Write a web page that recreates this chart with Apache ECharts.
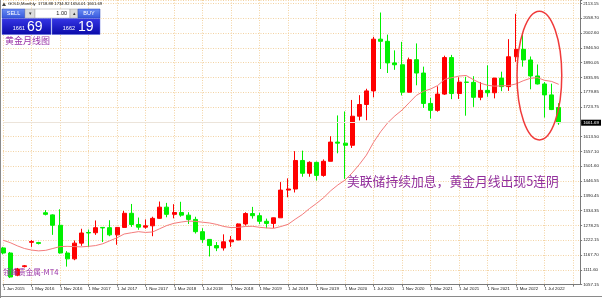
<!DOCTYPE html>
<html><head><meta charset="utf-8">
<script src="https://cdn.jsdelivr.net/npm/echarts@6/dist/echarts.min.js"></script>
<style>html,body{margin:0;padding:0;background:#fff;overflow:hidden}#c{width:602px;height:298px}</style>
</head><body><div id="c"></div>
<script>
// ---- data ----
const categories = ['1 Jan 2015','1 Nov 2015','1 Dec 2015','1 Jan 2016','1 May 2016','1 Aug 2016','1 Sep 2016','1 Oct 2016',
'1 Nov 2016','1 Dec 2016','1 Jan 2017','1 Feb 2017','1 Mar 2017','1 Apr 2017','1 May 2017','1 Jun 2017','1 Jul 2017','1 Aug 2017','1 Sep 2017','1 Oct 2017','1 Nov 2017','1 Dec 2017',
'1 Jan 2018','1 Feb 2018','1 Mar 2018','1 Apr 2018','1 May 2018','1 Jun 2018','1 Jul 2018','1 Aug 2018','1 Sep 2018','1 Oct 2018','1 Nov 2018','1 Dec 2018',
'1 Jan 2019','1 Feb 2019','1 Mar 2019','1 Apr 2019','1 May 2019','1 Jun 2019','1 Jul 2019','1 Aug 2019','1 Sep 2019','1 Oct 2019','1 Nov 2019','1 Dec 2019',
'1 Jan 2020','1 Feb 2020','1 Mar 2020','1 Apr 2020','1 May 2020','1 Jun 2020','1 Jul 2020','1 Aug 2020','1 Sep 2020','1 Oct 2020','1 Nov 2020','1 Dec 2020',
'1 Jan 2021','1 Feb 2021','1 Mar 2021','1 Apr 2021','1 May 2021','1 Jun 2021','1 Jul 2021','1 Aug 2021','1 Sep 2021','1 Oct 2021','1 Nov 2021','1 Dec 2021',
'1 Jan 2022','1 Feb 2022','1 Mar 2022','1 Apr 2022','1 May 2022','1 Jun 2022','1 Jul 2022','1 Aug 2022','1 Sep 2022',
'1 Oct 2022','1 Nov 2022','1 Dec 2022'];
const opens = [1192,1173,1090,1122,1213,1212,1324,1316,
1277,1173,1151,1210,1250,1249,1269,1268,1241,1269,1322,1280,1270,1275,
1303,1345,1318,1325,1315,1299,1253,1224,1201,1192,1215,1222,
1282,1321,1313,1292,1284,1305,1409,1413,1520,1472,1513,1464,
1517,1589,1585,1577,1686,1730,1781,1975,1967,1886,1879,1776,
1898,1848,1734,1708,1769,1906,1771,1814,1813,1757,1783,1774,
1829,1797,1909,1937,1897,1837,1807,1766,1718.88];
const closes = [1173,1083,1113,1125,1216,1209,1318,1277,
1173,1151,1210,1248,1248,1268,1267,1241,1269,1322,1280,1270,1275,1303,
1345,1318,1325,1315,1299,1253,1224,1201,1192,1215,1222,1282,
1321,1313,1292,1284,1305,1409,1413,1520,1472,1513,1464,1517,
1589,1585,1577,1686,1730,1781,1975,1967,1886,1879,1776,1898,
1848,1734,1708,1769,1906,1771,1814,1813,1757,1783,1774,1829,
1797,1909,1937,1897,1837,1807,1766,1711,1661.69];
const lows = [1168,1079,1086,1119,1196,1205,1314,1241,
1171,1122,1146,1200,1195,1241,1214,1236,1204,1267,1271,1260,1264,1236,
1302,1307,1303,1309,1282,1246,1211,1160,1180,1182,1196,1221,
1276,1302,1281,1266,1267,1305,1382,1400,1459,1459,1445,1459,
1517,1547,1451,1567,1670,1671,1757,1863,1848,1860,1764,1775,
1802,1717,1677,1703,1766,1750,1751,1688,1721,1746,1759,1753,
1780,1781,1890,1872,1787,1805,1681,1709,1654.01];
const highs = [1196,1177,1117,1128,1222,1215,1334,1318,
1337,1180,1220,1264,1261,1295,1270,1296,1270,1331,1357,1306,1299,1309,
1366,1361,1356,1365,1326,1309,1266,1225,1214,1243,1237,1284,
1326,1346,1324,1302,1306,1439,1453,1555,1557,1517,1516,1524,
1611,1689,1704,1747,1765,1789,1984,2075,1992,1933,1965,1906,
1959,1872,1755,1798,1913,1916,1832,1834,1836,1814,1877,1830,
1853,1975,2070,1998,1910,1880,1814,1808,1734.92];
const movingAverage = [1221,1212,1200,1190,1184,1181,1183,1190,1197,1198,1197,1196,1198,1200.9,
1207.7,1219.0,1230.1,1244.2,1248.8,1253.1,1250.1,1251.9,1264.2,1276.1,1284.4,1289.1,1292.7,1291.6,
1288.5,1285.6,1280.1,1272.5,1268.4,1269.2,1272.5,1273.2,1269.4,1267.0,1265.6,1272.3,1280.4,1299.5,
1317.2,1339.5,1358.9,1380.5,1406.7,1428.4,1446.6,1473.3,1504.6,1540.1,1587.9,1627.8,1661.6,1687.2,
1708.9,1736.4,1763.9,1779.4,1787.9,1801.0,1824.5,1830.6,1836.6,1838.9,1823.3,1810.1,1802.1,1798.6,
1800.1,1800.9,1807.2,1818.9,1828.1,1830.8,1820.8,1816.5,1805.6];
const yTickLabels = ['1057.15','1111.60','1167.70','1222.15','1278.25','1334.35','1390.45','1446.55','1501.60','1557.10',
'1613.50','','1723.75','1779.85','1835.95','1890.05','1946.50','2002.60','2058.70','2113.15'];
const currentPrice = 1661.69;
const headerText = 'GOLD,Monthly  1718.88 1734.92 1654.01 1661.69';
const sellPrice = ['1661', '69'];
const buyPrice = ['1662', '19'];
const lotText = '1.00';
const titleText = '黄金月线图';
const noteText = '美联储持续加息，黄金月线出现5连阴';
const sourceText = '领峰贵金属-MT4';

// ---- chart ----
const Y_MIN = 1054.5, Y_MAX = 2121.9, Y_STEP = 55.5;
const gridColor = '#f3d3a3';
const candleData = opens.map((o, i) => [o, closes[i], lows[i], highs[i]]);
const chart = echarts.init(document.getElementById('c'), null, {renderer: 'canvas'});
const numFont = 'Liberation Sans';
chart.setOption({
  animation: false,
  backgroundColor: '#ffffff',
  grid: {left: 1, right: 20, top: 0, bottom: 13.4, containLabel: false},
  xAxis: {
    type: 'category', data: categories, boundaryGap: false,
    axisLine: {lineStyle: {color: '#7a7a7a', width: 1}},
    axisTick: {interval: 3, length: 2, lineStyle: {color: '#7a7a7a'}},
    axisLabel: {interval: 3, align: 'left', fontSize: 4.4, color: '#222', margin: 2.5, fontFamily: numFont,
      formatter: (v, i) => (i > 78 ? '' : v)},
    splitLine: {show: true, interval: 3, lineStyle: {color: gridColor, type: [1, 1.5], width: 1}}
  },
  yAxis: {
    type: 'value', position: 'right', min: Y_MIN, max: Y_MAX, interval: Y_STEP,
    axisLine: {show: true, lineStyle: {color: '#7a7a7a', width: 1}},
    axisTick: {show: true, length: 2, lineStyle: {color: '#7a7a7a'}},
    axisLabel: {fontSize: 4.4, color: '#222', margin: 3, fontFamily: numFont,
      formatter: v => {
        const k = Math.round(v / Y_STEP);
        if (Math.abs(v - k * Y_STEP) > 0.01) return '';
        return yTickLabels[k - 19] || '';
      }},
    splitLine: {show: true, lineStyle: {color: gridColor, type: [1, 1.5], width: 1}}
  },
  series: [
    {
      type: 'candlestick', data: candleData, barWidth: 4.5,
      itemStyle: {color: '#ff0000', borderColor: '#ff0000', color0: '#00f000', borderColor0: '#00f000', borderWidth: 1},
      markLine: {
        silent: true, symbol: ['none', 'none'],
        lineStyle: {color: '#ece4da', type: 'solid', width: 1},
        label: {show: true, position: 'end', distance: 1, formatter: () => currentPrice.toFixed(2),
          backgroundColor: '#000', color: '#fff', fontSize: 4.4, fontFamily: numFont, padding: [1, 2]},
        data: [{yAxis: currentPrice}]
      },
      z: 2
    },
    {
      type: 'line', data: movingAverage, showSymbol: false, smooth: false,
      lineStyle: {color: '#f47c7c', width: 1}, z: 3
    }
  ]
});

// ---- annotations ----
const pL = chart.convertToPixel({gridIndex: 0}, [72, 2080]);
const pR = chart.convertToPixel({gridIndex: 0}, [78, 1597]);
const ex1 = pL[0] + 1, ex2 = pR[0] + 3;
const ey1 = pL[1], ey2 = pR[1];

const blueBtn = new echarts.graphic.LinearGradient(0, 0, 0, 1, [{offset: 0, color: '#6a8cf4'}, {offset: 1, color: '#3657dc'}]);
const blueBox = new echarts.graphic.LinearGradient(0, 0, 0, 1, [{offset: 0, color: '#3636e6'}, {offset: 1, color: '#0a0aa8'}]);
const cjk = 'Noto Sans CJK SC';
chart.setOption({
  graphic: [
    {type: 'line', shape: {x1: 0.5, y1: 0, x2: 0.5, y2: 298}, style: {stroke: '#8a8a8a', lineWidth: 1}, z: 10},
    {type: 'line', shape: {x1: 0, y1: 296.5, x2: 602, y2: 296.5}, style: {stroke: '#8a8a8a', lineWidth: 1}, z: 10},
    {type: 'ellipse', shape: {cx: (ex1 + ex2) / 2, cy: (ey1 + ey2) / 2, rx: (ex2 - ex1) / 2, ry: (ey2 - ey1) / 2},
      style: {fill: 'none', stroke: '#f03a3a', lineWidth: 1.5}, z: 20},
    // header
    {type: 'polygon', shape: {points: [[2, 6], [4, 2.5], [6, 6]]}, style: {fill: '#444'}, z: 20},
    {type: 'text', left: 8, top: 1.5, style: {text: headerText, fontSize: 4.2, fill: '#111', fontFamily: numFont}, z: 20},
    // trading panel
    {type: 'rect', shape: {x: 2, y: 9, width: 23, height: 9}, style: {fill: blueBtn, stroke: '#2a44b8', lineWidth: 0.5}, z: 20},
    {type: 'text', x: 13.5, y: 13.5, style: {text: 'SELL', fontSize: 5.5, fill: '#fff', fontFamily: numFont, align: 'center', verticalAlign: 'middle'}, z: 21},
    {type: 'rect', shape: {x: 25, y: 9, width: 10, height: 9}, style: {fill: '#dcdcdc', stroke: '#a0a0a0', lineWidth: 0.5}, z: 20},
    {type: 'text', x: 30, y: 13.5, style: {text: '▾', fontSize: 5, fill: '#333', align: 'center', verticalAlign: 'middle'}, z: 21},
    {type: 'rect', shape: {x: 35, y: 9, width: 35, height: 9}, style: {fill: '#fff', stroke: '#a0a0a0', lineWidth: 0.5}, z: 20},
    {type: 'text', x: 67, y: 13.5, style: {text: lotText, fontSize: 5.5, fill: '#222', fontFamily: numFont, align: 'right', verticalAlign: 'middle'}, z: 21},
    {type: 'rect', shape: {x: 70, y: 9, width: 8, height: 9}, style: {fill: '#dcdcdc', stroke: '#a0a0a0', lineWidth: 0.5}, z: 20},
    {type: 'text', x: 74, y: 13.5, style: {text: '▴', fontSize: 5, fill: '#333', align: 'center', verticalAlign: 'middle'}, z: 21},
    {type: 'rect', shape: {x: 78, y: 9, width: 22, height: 9}, style: {fill: blueBtn, stroke: '#2a44b8', lineWidth: 0.5}, z: 20},
    {type: 'text', x: 89, y: 13.5, style: {text: 'BUY', fontSize: 5.5, fill: '#fff', fontFamily: numFont, align: 'center', verticalAlign: 'middle'}, z: 21},
    {type: 'rect', shape: {x: 2, y: 18.5, width: 49, height: 16}, style: {fill: blueBox, stroke: '#5a6ae0', lineWidth: 0.5}, z: 20},
    {type: 'rect', shape: {x: 52, y: 18.5, width: 48, height: 16}, style: {fill: blueBox, stroke: '#5a6ae0', lineWidth: 0.5}, z: 20},
    {type: 'text', x: 25, y: 31.5, style: {text: sellPrice[0], fontSize: 5.5, fill: '#fff', fontFamily: numFont, align: 'right', verticalAlign: 'bottom'}, z: 21},
    {type: 'text', x: 27, y: 34, style: {text: sellPrice[1], fontSize: 14, fill: '#fff', fontFamily: numFont, align: 'left', verticalAlign: 'bottom'}, z: 21},
    {type: 'text', x: 75, y: 31.5, style: {text: buyPrice[0], fontSize: 5.5, fill: '#fff', fontFamily: numFont, align: 'right', verticalAlign: 'bottom'}, z: 21},
    {type: 'text', x: 78, y: 34, style: {text: buyPrice[1], fontSize: 14, fill: '#fff', fontFamily: numFont, align: 'left', verticalAlign: 'bottom'}, z: 21},
    // texts
    {type: 'text', x: 5, y: 41, style: {text: titleText, fontSize: 9, fill: '#9a35a8', fontFamily: cjk, verticalAlign: 'middle'}, z: 21},
    {type: 'text', x: 347, y: 181.5, style: {text: noteText, fontSize: 12.8, fill: '#922f9c', fontFamily: cjk, verticalAlign: 'middle'}, z: 21},
    {type: 'text', x: 3, y: 272, style: {text: sourceText, fontSize: 7.6, fill: '#9a35a8', fontFamily: cjk, verticalAlign: 'middle'}, z: 21}
  ]
});
</script>
</body></html>
